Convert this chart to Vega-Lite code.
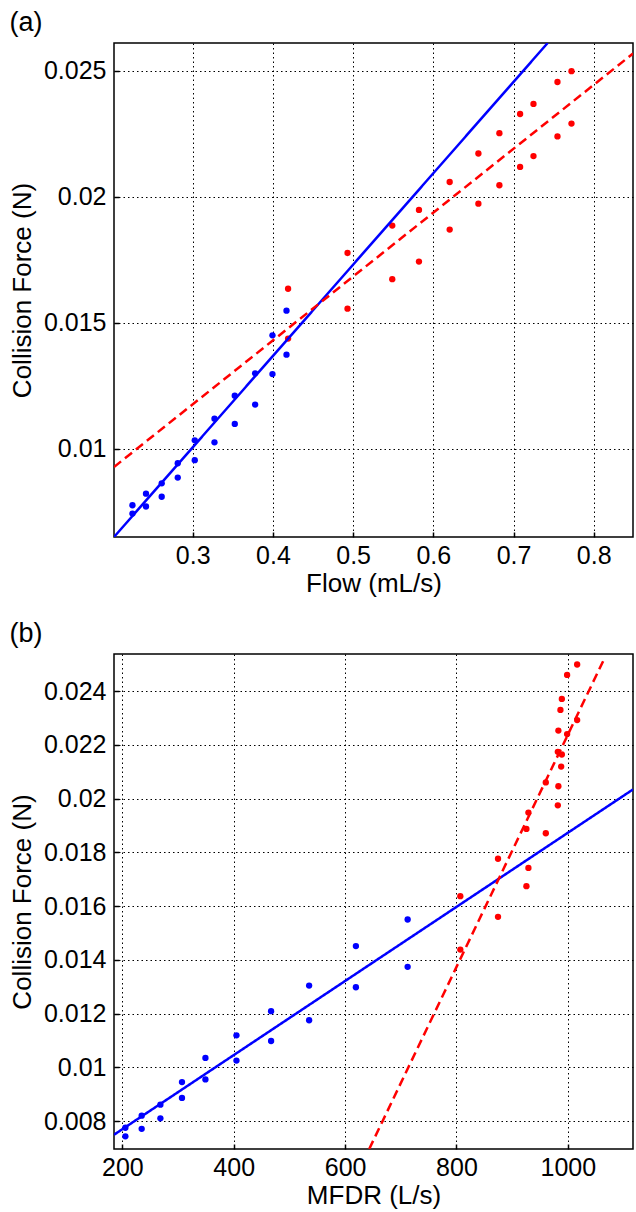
{
  "$schema": "https://vega.github.io/schema/vega-lite/v6.json",
  "background": "white",
  "padding": {"left": 8, "top": 8, "right": 4, "bottom": 2},
  "spacing": 21,
  "config": {
    "font": "Liberation Sans",
    "view": {"stroke": "black", "strokeWidth": 1.5},
    "axis": {
      "labelFont": "Liberation Sans", "labelFontSize": 25, "labelColor": "black",
      "titleFont": "Liberation Sans", "titleFontSize": 26, "titleColor": "black", "titleFontWeight": "normal",
      "domain": false, "ticks": true, "tickSize": -5, "tickColor": "black", "tickWidth": 1.5, "labelPadding": 13,
      "grid": true, "gridColor": "black", "gridOpacity": 1, "gridWidth": 1, "gridDash": [1.5, 3],
      "labelFlush": false, "labelOverlap": false
    },
    "axisX": {"labelPadding": 11.5, "titlePadding": 2},
    "axisY": {"titlePadding": 8},
    "title": {"font": "Liberation Sans", "fontSize": 27, "fontWeight": "normal", "anchor": "start", "frame": "bounds", "color": "black", "offset": 6}
  },
  "datasets": {
    "ptsA": [
      {"flow": 0.2248, "force": 0.00775, "g": "low"},
      {"flow": 0.2248, "force": 0.00742, "g": "low"},
      {"flow": 0.2417, "force": 0.00821, "g": "low"},
      {"flow": 0.2417, "force": 0.0077, "g": "low"},
      {"flow": 0.2613, "force": 0.00862, "g": "low"},
      {"flow": 0.2613, "force": 0.00809, "g": "low"},
      {"flow": 0.2813, "force": 0.00942, "g": "low"},
      {"flow": 0.2813, "force": 0.00885, "g": "low"},
      {"flow": 0.3025, "force": 0.01033, "g": "low"},
      {"flow": 0.3025, "force": 0.00954, "g": "low"},
      {"flow": 0.3271, "force": 0.01119, "g": "low"},
      {"flow": 0.3271, "force": 0.01025, "g": "low"},
      {"flow": 0.3524, "force": 0.0121, "g": "low"},
      {"flow": 0.3524, "force": 0.01098, "g": "low"},
      {"flow": 0.3778, "force": 0.01299, "g": "low"},
      {"flow": 0.3778, "force": 0.01175, "g": "low"},
      {"flow": 0.3994, "force": 0.0145, "g": "low"},
      {"flow": 0.3994, "force": 0.01296, "g": "low"},
      {"flow": 0.4169, "force": 0.01548, "g": "low"},
      {"flow": 0.4169, "force": 0.01373, "g": "low"},
      {"flow": 0.4189, "force": 0.01635, "g": "high"},
      {"flow": 0.4189, "force": 0.01437, "g": "high"},
      {"flow": 0.493, "force": 0.01777, "g": "high"},
      {"flow": 0.493, "force": 0.01556, "g": "high"},
      {"flow": 0.5488, "force": 0.01886, "g": "high"},
      {"flow": 0.5488, "force": 0.01673, "g": "high"},
      {"flow": 0.5821, "force": 0.01948, "g": "high"},
      {"flow": 0.5821, "force": 0.01743, "g": "high"},
      {"flow": 0.6204, "force": 0.02059, "g": "high"},
      {"flow": 0.6204, "force": 0.0187, "g": "high"},
      {"flow": 0.6562, "force": 0.02172, "g": "high"},
      {"flow": 0.6562, "force": 0.01973, "g": "high"},
      {"flow": 0.6824, "force": 0.02253, "g": "high"},
      {"flow": 0.6824, "force": 0.02046, "g": "high"},
      {"flow": 0.7082, "force": 0.02329, "g": "high"},
      {"flow": 0.7082, "force": 0.02119, "g": "high"},
      {"flow": 0.7249, "force": 0.02369, "g": "high"},
      {"flow": 0.7249, "force": 0.02162, "g": "high"},
      {"flow": 0.7548, "force": 0.02456, "g": "high"},
      {"flow": 0.7548, "force": 0.0224, "g": "high"},
      {"flow": 0.7723, "force": 0.02499, "g": "high"},
      {"flow": 0.7723, "force": 0.02291, "g": "high"}
    ],
    "fitA": [
      {"flow": 0.2018, "force": 0.00649, "g": "low"},
      {"flow": 0.7426, "force": 0.02611, "g": "low"},
      {"flow": 0.2018, "force": 0.00927, "g": "high"},
      {"flow": 0.849, "force": 0.02569, "g": "high"}
    ],
    "ptsB": [
      {"mfdr": 205.4, "force": 0.00775, "g": "low"},
      {"mfdr": 205.4, "force": 0.00743, "g": "low"},
      {"mfdr": 234.7, "force": 0.0082, "g": "low"},
      {"mfdr": 234.7, "force": 0.00771, "g": "low"},
      {"mfdr": 268.3, "force": 0.00861, "g": "low"},
      {"mfdr": 268.3, "force": 0.0081, "g": "low"},
      {"mfdr": 307.1, "force": 0.00945, "g": "low"},
      {"mfdr": 307.1, "force": 0.00886, "g": "low"},
      {"mfdr": 349.2, "force": 0.01035, "g": "low"},
      {"mfdr": 349.2, "force": 0.00955, "g": "low"},
      {"mfdr": 404.9, "force": 0.01119, "g": "low"},
      {"mfdr": 404.9, "force": 0.01025, "g": "low"},
      {"mfdr": 467.1, "force": 0.01209, "g": "low"},
      {"mfdr": 467.1, "force": 0.01098, "g": "low"},
      {"mfdr": 535.4, "force": 0.01304, "g": "low"},
      {"mfdr": 535.4, "force": 0.01175, "g": "low"},
      {"mfdr": 619.4, "force": 0.01451, "g": "low"},
      {"mfdr": 619.4, "force": 0.01298, "g": "low"},
      {"mfdr": 712.3, "force": 0.0155, "g": "low"},
      {"mfdr": 712.3, "force": 0.01374, "g": "low"},
      {"mfdr": 806.9, "force": 0.01637, "g": "high"},
      {"mfdr": 806.9, "force": 0.01438, "g": "high"},
      {"mfdr": 874.6, "force": 0.01776, "g": "high"},
      {"mfdr": 874.6, "force": 0.0156, "g": "high"},
      {"mfdr": 925.6, "force": 0.01887, "g": "high"},
      {"mfdr": 925.6, "force": 0.01674, "g": "high"},
      {"mfdr": 929.2, "force": 0.01948, "g": "high"},
      {"mfdr": 929.2, "force": 0.01742, "g": "high"},
      {"mfdr": 960.4, "force": 0.0206, "g": "high"},
      {"mfdr": 960.4, "force": 0.01871, "g": "high"},
      {"mfdr": 982, "force": 0.02174, "g": "high"},
      {"mfdr": 982, "force": 0.01975, "g": "high"},
      {"mfdr": 983, "force": 0.02253, "g": "high"},
      {"mfdr": 983, "force": 0.02046, "g": "high"},
      {"mfdr": 986.7, "force": 0.0233, "g": "high"},
      {"mfdr": 989.2, "force": 0.02371, "g": "high"},
      {"mfdr": 989.2, "force": 0.02164, "g": "high"},
      {"mfdr": 988, "force": 0.02119, "g": "high"},
      {"mfdr": 998.7, "force": 0.0246, "g": "high"},
      {"mfdr": 998.7, "force": 0.0224, "g": "high"},
      {"mfdr": 1016.7, "force": 0.02499, "g": "high"},
      {"mfdr": 1016.7, "force": 0.02292, "g": "high"}
    ],
    "fitB": [
      {"mfdr": 185, "force": 0.00749, "g": "low"},
      {"mfdr": 1117, "force": 0.02034, "g": "low"},
      {"mfdr": 643.3, "force": 0.00696, "g": "high"},
      {"mfdr": 1065.8, "force": 0.02522, "g": "high"}
    ]
  },
  "vconcat": [
    {
      "title": "(a)",
      "width": 519,
      "height": 494,
      "layer": [
        {
          "data": {"name": "ptsA"},
          "mark": {"type": "point", "filled": true, "size": 40, "opacity": 1},
          "encoding": {
            "x": {"field": "flow", "type": "quantitative", "scale": {"domain": [0.2018, 0.849], "nice": false, "zero": false},
                  "axis": {"title": "Flow (mL/s)", "values": [0.3, 0.4, 0.5, 0.6, 0.7, 0.8], "format": "~g"}},
            "y": {"field": "force", "type": "quantitative", "scale": {"domain": [0.00649, 0.02611], "nice": false, "zero": false},
                  "axis": {"title": "Collision Force (N)", "values": [0.01, 0.015, 0.02, 0.025], "format": "~g"}},
            "color": {"field": "g", "type": "nominal", "scale": {"domain": ["low", "high"], "range": ["#0000ff", "#ff0000"]}, "legend": null}
          }
        },
        {
          "data": {"name": "fitA"},
          "mark": {"type": "line", "strokeWidth": 2.5, "clip": true},
          "encoding": {
            "x": {"field": "flow", "type": "quantitative"},
            "y": {"field": "force", "type": "quantitative"},
            "color": {"field": "g", "type": "nominal", "scale": {"domain": ["low", "high"], "range": ["#0000ff", "#ff0000"]}, "legend": null},
            "strokeDash": {"field": "g", "type": "nominal", "scale": {"domain": ["low", "high"], "range": [[1, 0], [9, 5]]}, "legend": null}
          }
        }
      ]
    },
    {
      "title": "(b)",
      "width": 519,
      "height": 495,
      "layer": [
        {
          "data": {"name": "ptsB"},
          "mark": {"type": "point", "filled": true, "size": 40, "opacity": 1},
          "encoding": {
            "x": {"field": "mfdr", "type": "quantitative", "scale": {"domain": [185, 1117], "nice": false, "zero": false},
                  "axis": {"title": "MFDR (L/s)", "values": [200, 400, 600, 800, 1000], "format": "d"}},
            "y": {"field": "force", "type": "quantitative", "scale": {"domain": [0.00696, 0.02538], "nice": false, "zero": false},
                  "axis": {"title": "Collision Force (N)", "values": [0.008, 0.01, 0.012, 0.014, 0.016, 0.018, 0.02, 0.022, 0.024], "format": "~g"}},
            "color": {"field": "g", "type": "nominal", "scale": {"domain": ["low", "high"], "range": ["#0000ff", "#ff0000"]}, "legend": null}
          }
        },
        {
          "data": {"name": "fitB"},
          "mark": {"type": "line", "strokeWidth": 2.5, "clip": true},
          "encoding": {
            "x": {"field": "mfdr", "type": "quantitative"},
            "y": {"field": "force", "type": "quantitative"},
            "color": {"field": "g", "type": "nominal", "scale": {"domain": ["low", "high"], "range": ["#0000ff", "#ff0000"]}, "legend": null},
            "strokeDash": {"field": "g", "type": "nominal", "scale": {"domain": ["low", "high"], "range": [[1, 0], [9, 5]]}, "legend": null}
          }
        }
      ]
    }
  ]
}
